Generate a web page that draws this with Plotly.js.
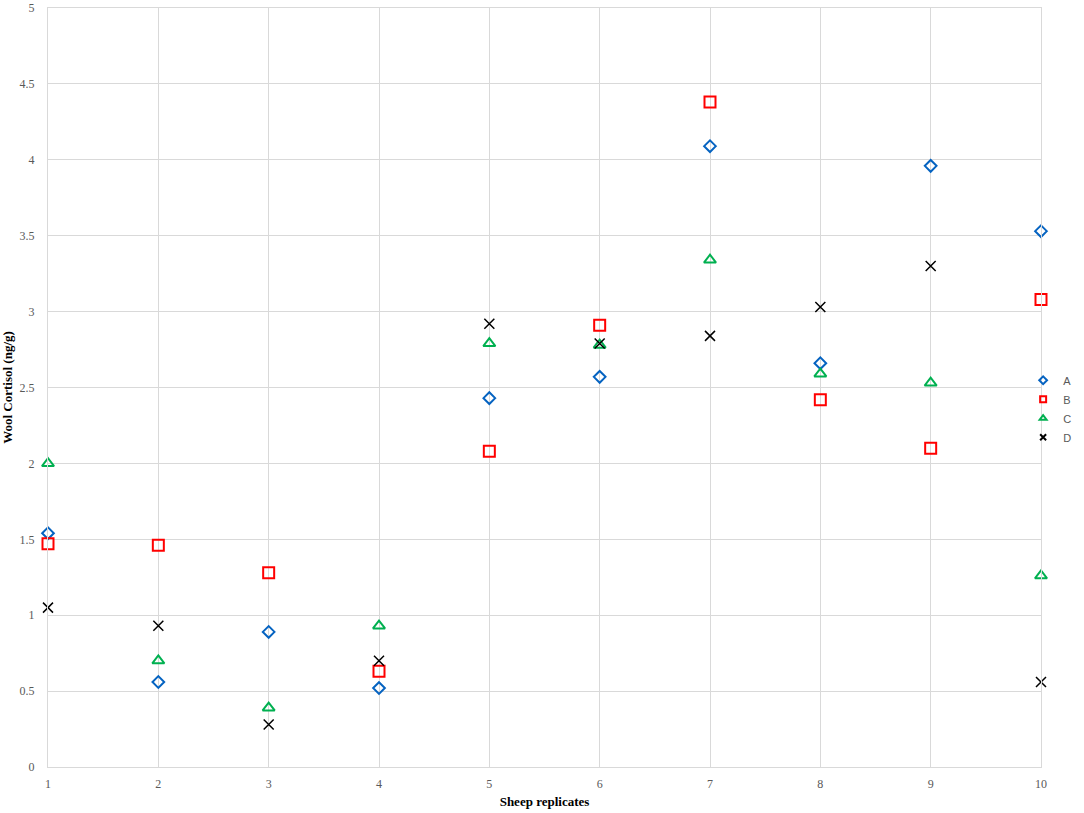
<!DOCTYPE html>
<html>
<head>
<meta charset="utf-8">
<script src="https://cdn.plot.ly/plotly-3.0.1.min.js"></script>
<style>
    html, body { margin: 0; padding: 0; background: #ffffff; }
    #plotly_container { width: 1084px; height: 813px; }
</style>
</head>
<body>
<div id="plotly_container"></div>
<script>
// Dữ liệu
var sheep = [1, 2, 3, 4, 5, 6, 7, 8, 9, 10];
var data_A = [1.54, 0.56, 0.89, 0.52, 2.43, 2.57, 4.09, 2.66, 3.96, 3.53];
var data_B = [1.47, 1.46, 1.28, 0.63, 2.08, 2.91, 4.38, 2.42, 2.10, 3.08];
var data_C = [2.00, 0.70, 0.39, 0.93, 2.79, 2.78, 3.34, 2.59, 2.53, 1.26];
var data_D = [1.05, 0.93, 0.28, 0.70, 2.92, 2.79, 2.84, 3.03, 3.30, 0.56];
var series_names = ['A', 'B', 'C', 'D'];

// Kiểu marker cho từng series
var sym = ['diamond-open', 'square-open', 'triangle-up-open', 'x-thin-open'];
var col = ['#0563c1', '#ff0000', '#00b050', '#000000'];
var msize = [9, 11, 10.5, 10];
var lwidth = [2, 2, 2, 1.5];

// Hàm tạo trace dữ liệu
function fn_Trace(idx, yvals){
    return {
        x: sheep,
        y: yvals,
        type: 'scatter',
        mode: 'markers',
        name: series_names[idx],
        showlegend: false,
        cliponaxis: false,
        marker: {symbol: sym[idx], size: msize[idx], color: col[idx],
                 line: {color: col[idx], width: lwidth[idx]}}
    };
}

// Hàm tạo trace chỉ dùng cho chú thích (marker nhỏ)
function fn_LegendTrace(idx){
    return {
        x: [null],
        y: [null],
        type: 'scatter',
        mode: 'markers',
        name: series_names[idx],
        showlegend: true,
        marker: {symbol: sym[idx], size: 6, color: col[idx],
                 line: {color: col[idx], width: 2}}
    };
}

var traces = [fn_Trace(0, data_A), fn_Trace(1, data_B), fn_Trace(2, data_C), fn_Trace(3, data_D),
              fn_LegendTrace(0), fn_LegendTrace(1), fn_LegendTrace(2), fn_LegendTrace(3)];

var tickFont = {family: 'Liberation Serif, Times New Roman, serif', size: 12, color: '#595959'};
var titleFont = {family: 'Liberation Serif, Times New Roman, serif', size: 13, color: '#000000', weight: 'bold'};

var layout = {
    width: 1084,
    height: 813,
    margin: {l: 47.5, r: 41, t: 8, b: 45.5},
    paper_bgcolor: '#ffffff',
    plot_bgcolor: '#ffffff',
    xaxis: {
        range: [1, 10],
        dtick: 1,
        tick0: 1,
        showgrid: true,
        gridcolor: '#d9d9d9',
        gridwidth: 1,
        zeroline: false,
        showline: true,
        mirror: true,
        linecolor: '#d9d9d9',
        linewidth: 1,
        ticks: 'outside',
        ticklen: 6,
        tickcolor: 'rgba(0,0,0,0)',
        tickfont: tickFont,
        title: {text: 'Sheep replicates', font: titleFont, standoff: 6}
    },
    yaxis: {
        range: [0, 5],
        dtick: 0.5,
        tick0: 0,
        showgrid: true,
        gridcolor: '#d9d9d9',
        gridwidth: 1,
        zeroline: false,
        showline: true,
        mirror: true,
        linecolor: '#d9d9d9',
        linewidth: 1,
        ticks: 'outside',
        ticklen: 10,
        tickcolor: 'rgba(0,0,0,0)',
        tickfont: tickFont,
        title: {text: 'Wool Cortisol (ng/g)', font: titleFont, standoff: 6}
    },
    showlegend: true,
    legend: {
        xref: 'paper',
        yref: 'paper',
        x: 0.982,
        y: 0.472,
        xanchor: 'left',
        yanchor: 'middle',
        bgcolor: 'rgba(0,0,0,0)',
        font: {family: 'Liberation Sans, Arial, sans-serif', size: 11, color: '#595959'},
        tracegroupgap: 0
    }
};

Plotly.newPlot('plotly_container', traces, layout, {displayModeBar: false, staticPlot: true});
</script>
</body>
</html>
